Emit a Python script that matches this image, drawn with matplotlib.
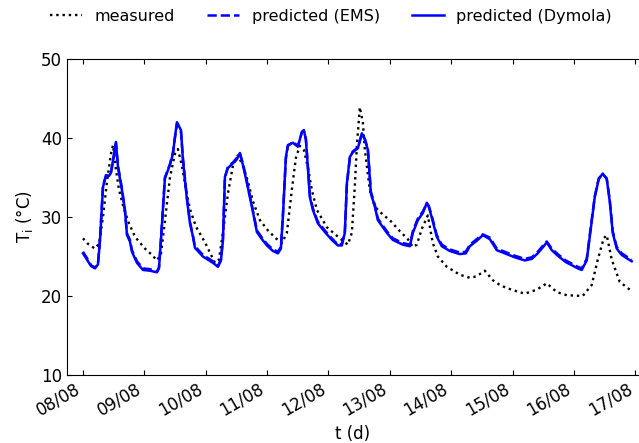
import matplotlib
matplotlib.use("Agg")
import matplotlib.pyplot as plt

# time in days since 08/08 00:00, indoor temperature in degC
t_meas = [0.000, 0.081, 0.195, 0.261, 0.326, 0.391, 0.456, 0.489, 0.537, 0.586,
          0.651, 0.733, 0.847, 1.010, 1.124, 1.205, 1.270, 1.335, 1.417, 1.498,
          1.547, 1.612, 1.678, 1.743, 1.840, 1.987, 2.150, 2.215, 2.280, 2.362,
          2.443, 2.524, 2.606, 2.687, 2.769, 2.883, 3.013, 3.143, 3.241, 3.322,
          3.404, 3.469, 3.534, 3.599, 3.664, 3.730, 3.811, 3.974, 4.186, 4.316,
          4.381, 4.430, 4.463, 4.511, 4.560, 4.593, 4.674, 4.756, 4.886, 5.000,
          5.163, 5.293, 5.375, 5.440, 5.521, 5.619, 5.700, 5.782, 5.928, 6.140,
          6.303, 6.417, 6.547, 6.678, 6.792, 6.906, 7.068, 7.199, 7.394, 7.557,
          7.720, 7.883, 8.143, 8.290, 8.388, 8.485, 8.534, 8.616, 8.746, 8.909,
          8.958]
T_meas = [27.3, 26.6, 26.0, 26.6, 30.0, 34.5, 38.0, 39.1, 36.0, 33.5,
          31.5, 29.5, 27.5, 26.0, 25.2, 24.5, 25.3, 29.5, 35.0, 38.0,
          38.6, 36.5, 33.5, 31.0, 28.8, 26.8, 24.2, 24.6, 28.0, 33.0,
          36.5, 37.8, 36.5, 34.5, 32.0, 29.6, 28.3, 27.3, 26.7, 28.0,
          33.5, 37.5, 39.0, 38.5, 36.3, 33.4, 30.9, 28.7, 27.3, 26.5,
          28.0, 34.0, 39.0, 43.9, 42.0, 38.5, 33.4, 31.3, 30.3, 29.6,
          28.2, 27.2, 26.2, 26.5, 28.5, 30.2, 26.7, 25.0, 23.7, 22.7,
          22.3, 22.5, 23.2, 22.0, 21.4, 21.0, 20.6, 20.3, 20.8, 21.6,
          20.5, 20.1, 20.0, 21.4, 24.6, 27.3, 27.7, 24.6, 21.8, 20.8,
          20.6]

t_pred = [0.000, 0.065, 0.130, 0.195, 0.244, 0.277, 0.326, 0.375, 0.423, 0.456,
          0.489, 0.537, 0.570, 0.635, 0.684, 0.717, 0.765, 0.798, 0.879, 0.977,
          1.091, 1.205, 1.238, 1.270, 1.335, 1.417, 1.466, 1.498, 1.531, 1.596,
          1.629, 1.694, 1.743, 1.792, 1.824, 1.954, 2.117, 2.199, 2.248, 2.280,
          2.313, 2.362, 2.443, 2.508, 2.557, 2.606, 2.671, 2.752, 2.834, 2.915,
          2.997, 3.094, 3.176, 3.225, 3.257, 3.306, 3.339, 3.420, 3.502, 3.567,
          3.599, 3.632, 3.664, 3.697, 3.746, 3.827, 3.941, 4.055, 4.153, 4.218,
          4.267, 4.300, 4.349, 4.397, 4.479, 4.544, 4.593, 4.642, 4.691, 4.756,
          4.805, 4.951, 5.049, 5.212, 5.326, 5.375, 5.456, 5.537, 5.603, 5.635,
          5.684, 5.765, 5.847, 5.977, 6.140, 6.238, 6.303, 6.417, 6.515, 6.629,
          6.743, 6.873, 7.036, 7.199, 7.313, 7.410, 7.508, 7.557, 7.638, 7.736,
          7.866, 7.964, 8.062, 8.127, 8.208, 8.274, 8.339, 8.404, 8.469, 8.534,
          8.583, 8.632, 8.697, 8.779, 8.876, 8.941]
T_dymola = [25.4, 24.6, 23.8, 23.5, 24.0, 27.0, 33.8, 35.3, 35.2, 35.6,
            37.2, 39.5, 36.3, 33.4, 30.9, 27.7, 26.9, 25.6, 24.2, 23.3,
            23.2, 23.0, 23.5, 27.0, 34.9, 36.6, 38.0, 40.1, 42.0, 41.0,
            37.2, 32.2, 29.2, 27.5, 26.1, 25.0, 24.2, 23.7, 24.5, 27.0,
            35.1, 36.2, 36.8, 37.3, 38.1, 36.6, 34.3, 31.3, 28.1, 27.2,
            26.4, 25.7, 25.4, 26.0, 30.0, 37.6, 39.1, 39.4, 38.9, 40.8,
            41.0, 39.8, 36.3, 32.5, 30.9, 29.2, 28.1, 27.1, 26.4, 26.4,
            28.0, 34.3, 37.6, 38.2, 38.7, 40.6, 39.8, 38.5, 33.0, 31.3,
            29.6, 28.0, 27.1, 26.5, 26.3, 28.0, 29.6, 30.5, 31.8, 31.3,
            29.9, 27.5, 26.3, 25.7, 25.3, 25.4, 26.3, 27.0, 27.7, 27.2,
            25.8, 25.4, 24.9, 24.5, 24.7, 25.4, 26.3, 26.8, 25.8, 25.1,
            24.3, 23.9, 23.5, 23.3, 24.5, 28.5, 32.5, 34.8, 35.5, 34.8,
            32.0, 28.0, 26.0, 25.2, 24.7, 24.4]
T_ems = [25.6, 24.8, 23.9, 23.6, 24.1, 27.2, 34.0, 35.2, 35.4, 35.7,
         37.0, 39.3, 36.5, 33.6, 30.7, 27.9, 27.1, 25.8, 24.4, 23.5,
         23.4, 23.1, 23.6, 27.2, 35.0, 36.7, 38.2, 40.0, 41.8, 40.9,
         37.4, 32.4, 29.4, 27.6, 26.3, 25.2, 24.4, 23.8, 24.6, 27.2,
         35.0, 36.4, 36.9, 37.5, 38.0, 36.8, 34.5, 31.5, 28.3, 27.4,
         26.6, 25.9, 25.6, 26.2, 30.2, 37.4, 39.0, 39.5, 39.0, 40.7,
         40.9, 39.9, 36.5, 32.7, 31.1, 29.4, 28.3, 27.3, 26.5, 26.6,
         28.2, 34.1, 37.5, 38.3, 38.8, 40.5, 39.9, 38.6, 33.2, 31.5,
         29.8, 28.2, 27.3, 26.7, 26.5, 28.2, 29.8, 30.7, 31.7, 31.4,
         30.1, 27.7, 26.5, 25.9, 25.5, 25.6, 26.5, 27.2, 27.8, 27.4,
         26.0, 25.6, 25.1, 24.7, 24.9, 25.6, 26.5, 26.9, 26.0, 25.3,
         24.5, 24.1, 23.7, 23.5, 24.7, 28.7, 32.6, 34.9, 35.4, 34.9,
         32.2, 28.2, 26.2, 25.4, 24.9, 24.6]

day_labels = ["08/08", "09/08", "10/08", "11/08", "12/08",
              "13/08", "14/08", "15/08", "16/08", "17/08"]

fig = plt.figure(figsize=(6.39, 4.43), dpi=100)
ax = fig.add_axes([0.1049, 0.1535, 0.8951, 0.7133])

ax.plot(t_meas, T_meas, color="black", linestyle=":", linewidth=1.7, label="measured")
ax.plot(t_pred, T_ems, color="blue", linestyle="--", linewidth=1.8, label="predicted (EMS)")
ax.plot(t_pred, T_dymola, color="blue", linestyle="-", linewidth=1.8, label="predicted (Dymola)")

ax.set_xlim(-0.26, 9.06)
ax.set_ylim(10, 50)
ax.set_yticks([10, 20, 30, 40, 50])
ax.set_xticks(range(len(day_labels)))
ax.set_xticklabels(day_labels, rotation=30, ha="right")
ax.tick_params(axis="both", direction="in", labelsize=12)
ax.tick_params(axis="x", top=True)
ax.tick_params(axis="y", right=False)
ax.spines["right"].set_visible(False)

ax.set_xlabel("t (d)", fontsize=12)
ax.set_ylabel("T$_\\mathrm{i}$ (°C)", fontsize=12)

fig.legend(loc="center", bbox_to_anchor=(0.518, 0.963), ncol=3, frameon=False,
           fontsize=11.5)

fig.savefig("out.png", dpi=100)
